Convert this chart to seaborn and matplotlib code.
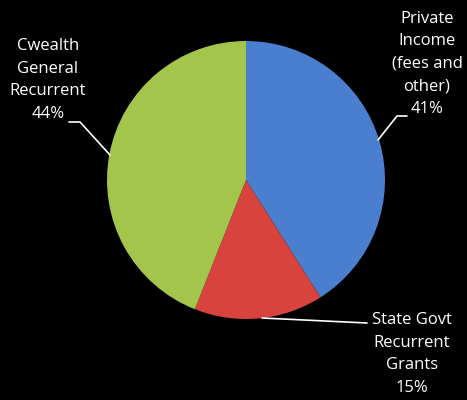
import numpy as np
import matplotlib
matplotlib.use('Agg')
import matplotlib.pyplot as plt
from matplotlib.patches import Rectangle
import seaborn as sns

# 데이터
labels = ['Private\nIncome\n(fees and\nother)', 'State Govt\nRecurrent\nGrants', 'Cwealth\nGeneral\nRecurrent']
shares = [41, 15, 44]
colors = ['#4a7fcf', '#d8433d', '#a3c54b']

sns.set_theme(style='dark', rc={'axes.facecolor': 'black', 'figure.facecolor': 'black'})
plt.rcParams['font.family'] = ['Open Sans', 'DejaVu Sans']

fig = plt.figure(figsize=(4.67, 4.0), dpi=100)
ax = fig.add_axes([0, 0, 1, 1])

# 파이 (위에서 시작, 시계방향)
ax.pie(shares, colors=colors, startangle=90, counterclock=False,
       center=(246, 220), radius=139, frame=True,
       wedgeprops={'linewidth': 0})
ax.set_xlim(0, 467)
ax.set_ylim(0, 400)
ax.set_aspect('equal')
ax.axis('off')

# 원본 그림처럼 초록 조각 아래쪽이 잘려 있음
ax.add_patch(Rectangle((100, 60), 97, 30, color='black', zorder=3))

# 라벨 위치
txt_pos = [(427, 336), (412, 46), (48, 320)]
for lab, v, (x, y) in zip(labels, shares, txt_pos):
    ax.text(x, y, f'{lab}\n{v}%', color='white', fontsize=12, ha='center', va='center',
            linespacing=1.55, zorder=6)

# 리더 라인
kw = dict(color='white', lw=1.2, zorder=6)
ax.plot([378, 397, 407], [260, 284, 284], **kw)
ax.plot([110, 80, 69], [245, 278, 278], **kw)
ax.plot([262, 367], [82, 77], **kw)

fig.savefig('out.png', dpi=100, facecolor='black')
